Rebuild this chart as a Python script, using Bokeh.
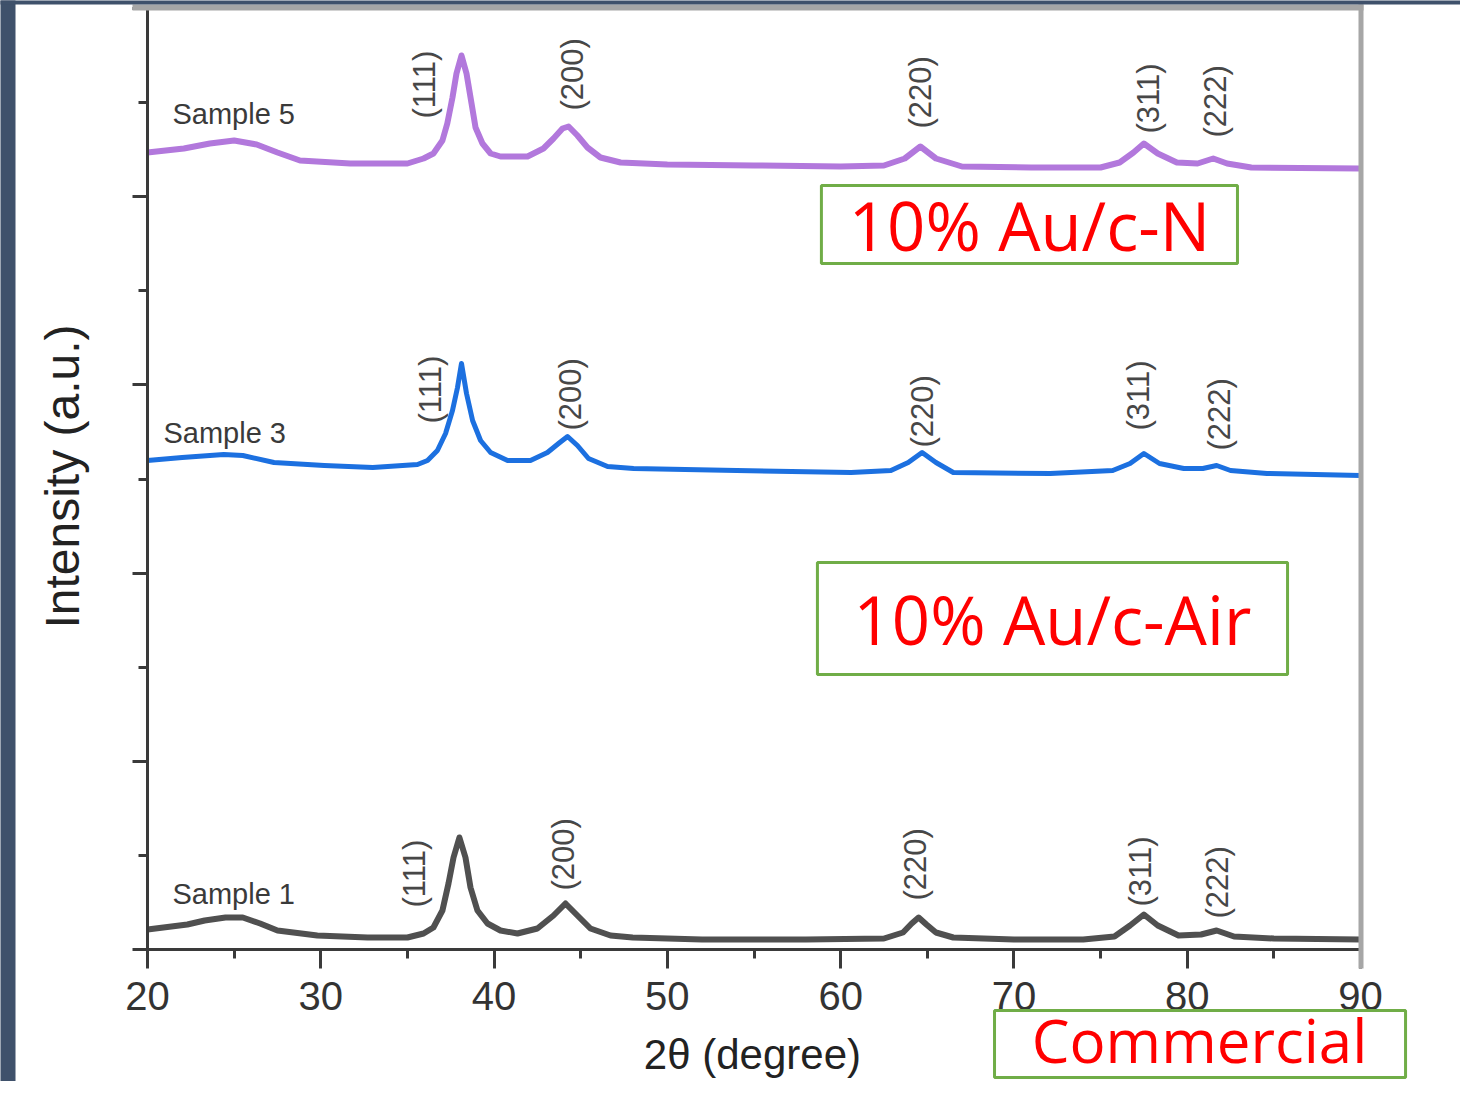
import math
from bokeh.plotting import figure
from bokeh.models import (Label, BoxAnnotation, SingleIntervalTicker, ColumnDataSource,
                          LinearAxis, Range1d)
from bokeh.core.properties import value
from bokeh.embed import file_html
from bokeh.resources import INLINE

# ---------------- data (2theta in degree, intensity in a.u.) ----------------
two_theta_1 = [20.0, 22.3, 23.3, 24.5, 25.5, 26.5, 27.5, 29.8, 32.7, 35.0, 35.93, 36.5, 37.02, 37.37,
               37.66, 38.0, 38.35, 38.64, 39.04, 39.62, 40.37, 41.35, 42.5, 43.43, 44.12, 44.81,
               45.56, 46.72, 48.0, 52.0, 58.0, 62.5, 63.6, 64.1, 64.5, 64.95, 65.5, 66.5, 70.0, 74.0,
               75.8, 76.7, 77.5, 78.3, 79.5, 80.8, 81.7, 82.7, 85.0, 90.0]
intensity_1 = [20, 25, 29, 32, 32, 26, 19, 14, 12, 12, 16, 22, 39, 66,
               92, 112, 92, 62, 39, 26, 19, 16, 21, 34, 46, 34,
               21, 14, 12, 10, 10, 11, 17, 26, 32, 25, 17, 12, 10, 10,
               13, 24, 35, 24, 14, 15, 19, 13, 11, 10]

two_theta_3 = [20.0, 22.0, 24.4, 25.5, 27.3, 30.2, 33.0, 35.58, 36.16, 36.73, 37.2, 37.6, 37.89, 38.12,
               38.41, 38.76, 39.22, 39.8, 40.78, 42.1, 43.08, 43.72, 44.24, 44.81, 45.45, 46.55,
               48.05, 54.0, 60.6, 62.9, 63.9, 64.7, 65.5, 66.5, 72.1, 75.7, 76.7, 77.5, 78.4, 79.8,
               80.9, 81.7, 82.5, 84.6, 90.0]
intensity_3 = [489, 492, 495, 494, 487, 484, 482, 485, 489, 499, 516, 539, 562, 586,
               556, 529, 509, 497, 489, 489, 497, 506, 513, 504, 491, 483,
               481, 479, 477, 479, 487, 497, 487, 477, 476, 479, 486, 496, 486, 481,
               481, 484, 479, 476, 474]

two_theta_5 = [20.0, 22.1, 23.6, 25.0, 26.3, 27.5, 28.8, 31.7, 35.0, 35.93, 36.5, 37.02, 37.3, 37.6,
               37.83, 38.12, 38.41, 38.7, 38.93, 39.33, 39.8, 40.37, 41.93, 42.85, 43.43, 43.95,
               44.3, 44.81, 45.39, 46.14, 47.3, 50.0, 55.0, 60.0, 62.5, 63.7, 64.6, 65.5, 67.0, 71.0,
               75.0, 76.1, 76.9, 77.5, 78.3, 79.4, 80.6, 81.5, 82.3, 83.7, 90.0]
intensity_5 = [797, 801, 806, 809, 805, 797, 789, 786, 786, 791, 796, 809, 826, 852,
               876, 894, 876, 846, 822, 806, 796, 793, 793, 801, 811, 821,
               823, 814, 802, 792, 787, 785, 784, 783, 784, 791, 803, 791, 783, 782,
               782, 787, 797, 806, 796, 787, 786, 791, 786, 782, 781]

peak_labels = ["(111)", "(200)", "(220)", "(311)", "(222)"]
peak_label_x_1 = [35.41, 44.01, 64.32, 77.30, 81.75]
peak_label_y_1 = [42, 59, 49, 43, 31]
peak_label_x_3 = [36.33, 44.41, 64.72, 77.19, 81.86]
peak_label_y_3 = [526, 519, 502, 519, 499]
peak_label_x_5 = [35.98, 44.53, 64.61, 77.76, 81.63]
peak_label_y_5 = [831, 839, 821, 816, 812]

sample_names = ["Sample 1", "Sample 3", "Sample 5"]
sample_label_x = [21.44, 20.92, 21.44]
sample_label_y = [56, 517, 836]

box_texts = ["Commercial", "10% Au/c-Air", "10% Au/c-N"]

# ---------------- geometry ----------------
W, H = 1460, 1081
X0_PX, X1_PX, Y0_PX = 147, 1360, 949          # pixel positions of x=20, x=90 and y=0
PX = (X1_PX - X0_PX) / 70.0                    # pixels per degree

p = figure(width=W, height=H,
           x_range=Range1d(20 - X0_PX / PX, 20 + (W - X0_PX) / PX),
           y_range=Range1d(Y0_PX - H, Y0_PX),
           x_axis_type=None, y_axis_type=None,
           output_backend="svg", toolbar_location=None, min_border=0)
p.outline_line_color = None
p.background_fill_color = "white"
p.border_fill_color = "white"

AXC = "#3a3a3a"
FONT = "Liberation Sans"

xaxis = LinearAxis(fixed_location=0, bounds=(20, 90),
                   ticker=SingleIntervalTicker(interval=10, num_minor_ticks=2))
xaxis.axis_line_color = AXC
xaxis.axis_line_width = 3
xaxis.major_tick_line_color = AXC
xaxis.minor_tick_line_color = AXC
xaxis.major_tick_line_width = 3
xaxis.minor_tick_line_width = 3
xaxis.major_tick_in = 0
xaxis.major_tick_out = 19
xaxis.minor_tick_in = 0
xaxis.minor_tick_out = 9
xaxis.major_label_text_font = FONT
xaxis.major_label_text_font_size = "40px"
xaxis.major_label_text_color = "#333333"
xaxis.major_label_standoff = 13
p.add_layout(xaxis, "below")

yaxis = LinearAxis(fixed_location=20, bounds=(0, 941),
                   ticker=SingleIntervalTicker(interval=188.2, num_minor_ticks=2))
yaxis.axis_line_color = AXC
yaxis.axis_line_width = 3
yaxis.major_tick_line_color = AXC
yaxis.minor_tick_line_color = AXC
yaxis.major_tick_line_width = 3
yaxis.minor_tick_line_width = 3
yaxis.major_tick_in = 0
yaxis.major_tick_out = 15
yaxis.minor_tick_in = 0
yaxis.minor_tick_out = 9
yaxis.major_label_text_color = None
yaxis.major_label_text_font_size = "1px"
p.add_layout(yaxis, "left")

# frame borders (top and right, gray) and dark page edges
GRAY = "#a6a6a6"
p.add_layout(BoxAnnotation(left=20 - 15 / PX, right=20 + 1216 / PX, top=945, bottom=939,
                           fill_color=GRAY, fill_alpha=1.0, line_color=None))
p.add_layout(BoxAnnotation(left=20 + 1211 / PX, right=20 + 1216 / PX, top=945, bottom=-19,
                           fill_color=GRAY, fill_alpha=1.0, line_color=None))
DARK = "#3f516b"
p.add_layout(BoxAnnotation(left=0, right=20 - 132 / PX, top=1200, bottom=-400,
                           fill_color=DARK, fill_alpha=1.0, line_color=None))
p.add_layout(BoxAnnotation(left=0, right=120, top=1200, bottom=945,
                           fill_color=DARK, fill_alpha=1.0, line_color=None))

# curves
p.line(two_theta_1, intensity_1, line_color="#505050", line_width=6, line_join="round")
p.line(two_theta_3, intensity_3, line_color="#1c70e0", line_width=5, line_join="round")
p.line(two_theta_5, intensity_5, line_color="#b278dc", line_width=6, line_join="round")

# peak labels
for xs, ys in [(peak_label_x_1, peak_label_y_1), (peak_label_x_3, peak_label_y_3),
               (peak_label_x_5, peak_label_y_5)]:
    src = ColumnDataSource(dict(x=xs, y=ys, t=peak_labels))
    p.text(x="x", y="y", text="t", source=src, angle=math.pi / 2,
           text_align="left", text_baseline="middle",
           text_font=value(FONT), text_font_size="31px", text_color="#474747")

# sample labels
src = ColumnDataSource(dict(x=sample_label_x, y=sample_label_y, t=sample_names))
p.text(x="x", y="y", text="t", source=src, text_align="left", text_baseline="alphabetic",
       text_font=value(FONT), text_font_size="29px", text_color="#3a3a3a")

# axis titles
p.add_layout(Label(x=54.91, y=-105, text="2θ (degree)", text_font=FONT,
                   text_font_size="42px", text_color="#222222",
                   text_align="center", text_baseline="middle"))
p.add_layout(Label(x=15.10, y=473, text="Intensity (a.u.)", text_font=FONT,
                   text_font_size="48px", text_color="#222222", angle=math.pi / 2,
                   text_align="center", text_baseline="middle"))

# annotation boxes
GREEN = "#70ad47"
boxes = [(68.88, 92.60, -61, -128), (58.66, 85.79, 387, 275), (58.89, 82.90, 764, 686)]
box_text_pos = [(80.71, -90, "60px"),
                (72.22, 331, "67px"),
                (70.90, 725, "67px")]
for (l, r, t, b), (cx, cy, fs), txt in zip(boxes, box_text_pos, box_texts):
    p.add_layout(BoxAnnotation(left=l, right=r, top=t, bottom=b, fill_color=None,
                               line_color=GREEN, line_width=3, line_alpha=1.0))
    p.add_layout(Label(x=cx, y=cy, text=txt, text_font="Open Sans", text_font_size=fs,
                       text_color="#ff0000", text_align="center", text_baseline="middle"))

open("out.html", "w").write(file_html(p, INLINE))
